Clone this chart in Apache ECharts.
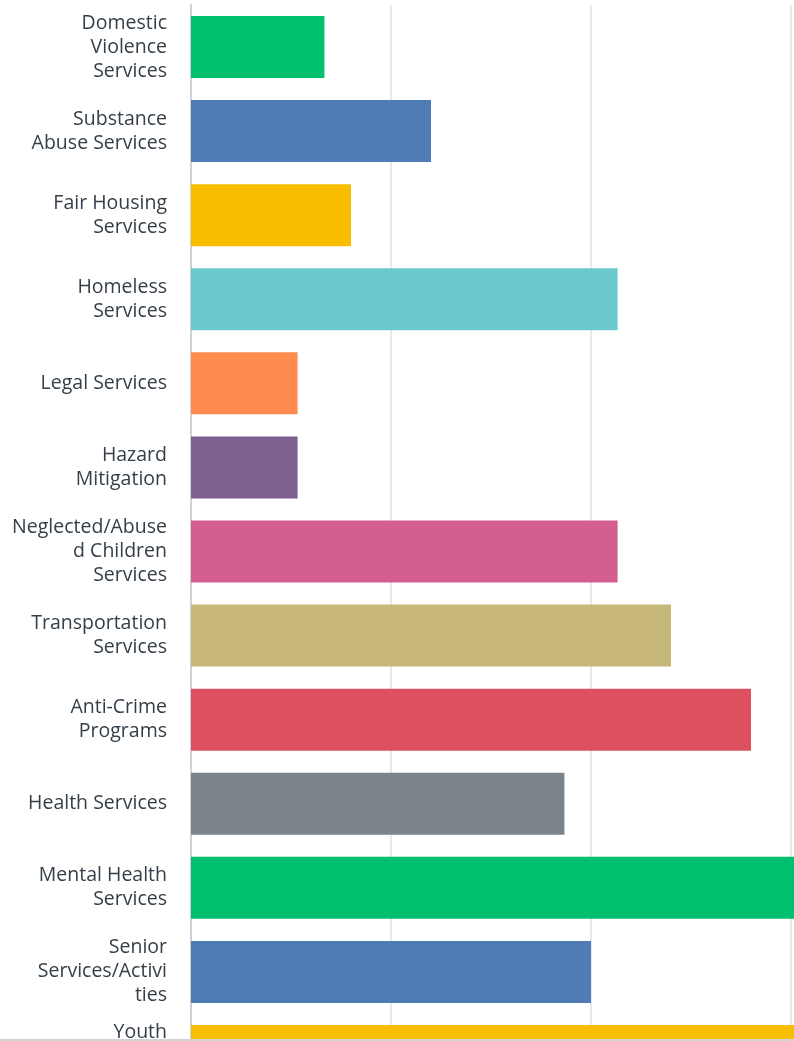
<!DOCTYPE html>
<html>
<head>
<meta charset="utf-8">
<script src="https://cdn.jsdelivr.net/npm/echarts@6/dist/echarts.min.js"></script>
<style>
  html, body { margin: 0; padding: 0; background: #fff; overflow: hidden; }
  /* the original is a crop of a larger chart: draw it bigger and let the window cut it */
  #chart { width: 1000px; height: 1100px; }
  #edge { position: fixed; left: 0; top: 1039px; width: 794px; height: 2px; background: #d0d2d3; }
</style>
</head>
<body>
<div id="chart"></div>
<div id="edge"></div>
<script>
// category labels, wrapped the way the original shows them
var categories = [
    'Domestic\nViolence\nServices',
    'Substance\nAbuse Services',
    'Fair Housing\nServices',
    'Homeless\nServices',
    'Legal Services',
    'Hazard\nMitigation',
    'Neglected/Abuse\nd Children\nServices',
    'Transportation\nServices',
    'Anti-Crime\nPrograms',
    'Health Services',
    'Mental Health\nServices',
    'Senior\nServices/Activi\nties',
    'Youth\nServices/Activi\nties'
];
// percent of respondents
var values = [6.67, 12, 8, 21.33, 5.33, 5.33, 21.33, 24, 28, 18.67, 33.33, 20, 36];
var xTicks = [0, 10, 20, 30, 40];

var palette = ['#00bf6f', '#507cb6', '#f9be00', '#6bc8cd', '#ff8b4f', '#7f5f90',
    '#d25f90', '#c7b879', '#dc5060', '#7b848b'];

var chart = echarts.init(document.getElementById('chart'));
chart.setOption({
    animation: false,
    grid: { left: 191, top: 5, width: 800, height: 1093, containLabel: false },
    xAxis: {
        type: 'value',
        min: xTicks[0],
        max: xTicks[xTicks.length - 1],
        interval: 10,
        axisLabel: { show: false },
        axisLine: { show: false },
        axisTick: { show: false },
        splitLine: { lineStyle: { color: '#e9e9e9', width: 2 } }
    },
    yAxis: {
        type: 'category',
        data: categories,
        inverse: true,
        axisTick: { show: false },
        axisLine: { lineStyle: { color: '#d0d2d3', width: 2 } },
        axisLabel: {
            margin: 24,
            color: '#333e48',
            fontSize: 19.5,
            lineHeight: 24,
            fontFamily: 'Open Sans',
            align: 'right',
            verticalAlign: 'middle',
            backgroundColor: 'rgba(255,255,255,0)',
            padding: [6, 0, 0, 0]
        }
    },
    series: [{
        type: 'bar',
        data: values,
        barWidth: 62,
        itemStyle: {
            color: function (p) { return palette[p.dataIndex % palette.length]; }
        }
    }]
});
</script>
</body>
</html>
